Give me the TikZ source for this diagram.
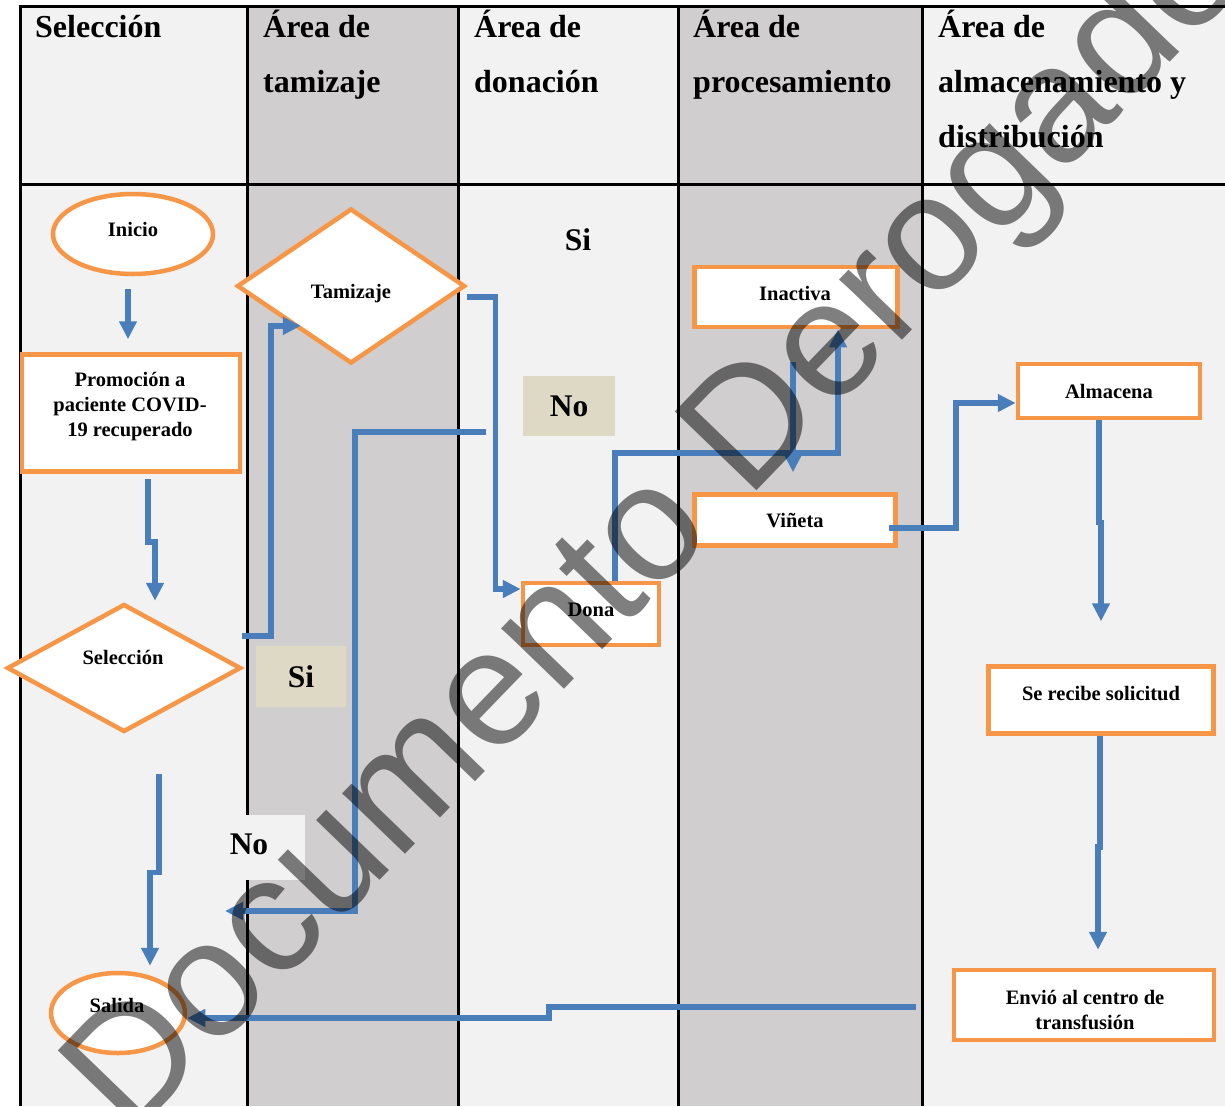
\documentclass[tikz,border=0pt]{standalone}
\usepackage{fontspec}
\setmainfont{Liberation Serif}
\newfontfamily\wmfont{Liberation Sans}
\usetikzlibrary{shapes.geometric,arrows.meta}
\definecolor{lblue}{HTML}{4A7EBB}
\definecolor{lorange}{HTML}{F79646}
\definecolor{colgray}{HTML}{D0CECE}
\definecolor{collight}{HTML}{F2F2F2}
\definecolor{beige}{HTML}{DDD9C4}
\tikzset{
  x=1pt, y=-1pt,
  rowline/.style={line width=3pt, black},
  boxnode/.style={draw=lorange, line width=4.5pt, fill=white, rectangle, inner sep=0pt},
  ellnode/.style={draw=lorange, line width=4.5pt, fill=white, ellipse, inner sep=0pt},
  dianode/.style={draw=lorange, line width=4.5pt, fill=white, diamond, inner sep=0pt},
  txt/.style={font=\bfseries\fontsize{20.5}{25}\selectfont, align=center, inner sep=0pt},
  hdr/.style={font=\bfseries\fontsize{32}{55}\selectfont, anchor=base west, inner sep=0pt},
  lbl/.style={font=\bfseries\fontsize{31.5}{36}\selectfont, inner sep=0pt},
  lblbox/.style={fill=beige, inner sep=0pt},
  arr/.style={draw=lblue, line width=5.5pt, -{Triangle[length=18pt,width=17pt]}},
  wm/.style={font=\wmfont\fontsize{165}{165}\selectfont, text=black, text opacity=0.5, inner sep=0pt}
}
\begin{document}
\begin{tikzpicture}
\useasboundingbox (0,0) rectangle (1225,1106);
\fill[white] (0,0) rectangle (1225,1106);
% columns
\fill[collight] (20,6) rectangle (247,1106);
\fill[colgray] (247,6) rectangle (458,1106);
\fill[collight] (458,6) rectangle (678,1106);
\fill[colgray] (678,6) rectangle (922,1106);
\fill[collight] (922,6) rectangle (1225,1106);
% grid lines
\draw[rowline] (18.5,6) -- (1225,6);
\draw[rowline] (20,184) -- (1225,184);
\foreach \cx in {20,247,458,678,922} \draw[rowline] (\cx,6) -- (\cx,1106);
% headers
\node[hdr] (h1a) at (35,37) {Selección};
\node[hdr] (h2a) at (263,37) {Área de};
\node[hdr] (h2b) at (263,92) {tamizaje};
\node[hdr] (h3a) at (474,37) {Área de};
\node[hdr] (h3b) at (474,92) {donación};
\node[hdr] (h4a) at (693,37) {Área de};
\node[hdr] (h4b) at (693,92) {procesamiento};
\node[hdr] (h5a) at (938,37) {Área de};
\node[hdr] (h5b) at (938,92) {almacenamiento y};
\node[hdr] (h5c) at (938,147) {distribución};
% shapes
\node[ellnode, minimum width=160pt, minimum height=80pt] (ini) at (133,234) {};
\node[txt] (tini) at (133,229) {Inicio};
\node[boxnode, minimum width=218pt, minimum height=117pt] (pro) at (131,413) {};
\node[txt] (tpro) at (130,407) {Promoción a\\paciente COVID-\\19 recuperado};
\node[dianode, minimum width=234pt, minimum height=128pt] (sel) at (124,668) {};
\node[txt] (tsel) at (123,657) {Selección};
\node[ellnode, minimum width=134pt, minimum height=80pt] (sal) at (118,1013) {};
\node[txt] (tsal) at (117,1005) {Salida};
\node[dianode, minimum width=228pt, minimum height=155pt] (tam) at (351,286) {};
\node[txt] (ttam) at (351,294) {Tamizaje};
\node[boxnode, minimum width=136pt, minimum height=62pt] (don) at (591,614) {};
\node[txt] (tdon) at (591,610) {Dona};
\node[boxnode, minimum width=203pt, minimum height=60pt] (ina) at (796,297) {};
\node[txt] (tina) at (795,293) {Inactiva};
\node[boxnode, minimum width=201pt, minimum height=51pt] (vin) at (795,520) {};
\node[txt] (tvin) at (795,521) {Viñeta};
\node[boxnode, minimum width=182pt, minimum height=54pt] (alm) at (1109,391) {};
\node[txt] (talm) at (1109,391) {Almacena};
\node[boxnode, minimum width=225pt, minimum height=67pt] (sol) at (1101,700) {};
\node[txt] (tsol) at (1101,694) {Se recibe solicitud};
\node[boxnode, minimum width=260pt, minimum height=70pt] (env) at (1084,1005) {};
\node[txt] (tenv) at (1085,1010) {Envió al centro de\\transfusión};
% labels
\node[lblbox, minimum width=90pt, minimum height=61pt] (bsi1) at (301,676.5) {};
\node[lbl] (si1) at (301,677) {Si};
\node[lblbox, minimum width=92pt, minimum height=60pt] (bno1) at (569,406) {};
\node[lbl] (no1) at (569,406) {No};
\node[lbl] (si2) at (578,240) {Si};
\node[fill=collight, inner sep=0pt, minimum width=75pt, minimum height=65pt] (bno2) at (267.5,847.5) {};
\node[lbl] (no2) at (249,844) {No};
% connectors
\draw[arr] ([xshift=-5pt,yshift=-13pt]ini.south) -- ([xshift=-3pt,yshift=13pt]pro.north);
\draw[arr] ([xshift=17pt,yshift=-5pt]pro.south) -- ++(0,63) -- ++(7,0) -- ([xshift=31pt,yshift=1pt]sel.north);
\draw[arr, shorten >=-8pt] ([xshift=-1pt,yshift=32pt]sel.east) -| ([xshift=-22pt]tam.south west) -- (tam.south west);
\draw[arr] ([yshift=-11pt]tam.east) -- ++(28,0) |- ([yshift=25pt]don.west);
\coordinate (nostart) at (486,432);
\coordinate (noend) at (225,911);
\draw[arr] (nostart) -| (355,911) -- (noend);
\draw[arr] ([xshift=35pt,yshift=-40pt]sel.south) -- ++(0,98) -- ++(-9,0) -- ([xshift=32pt,yshift=5pt]sal.north);
\draw[arr] ([xshift=24pt]don.north) -- ++(0,-128) -| ([xshift=42pt]ina.south);
\draw[arr] ([xshift=-3pt,yshift=-33pt]ina.south) -- ([xshift=-2pt,yshift=20pt]vin.north);
\draw[arr] ([xshift=-9pt,yshift=-8pt]vin.east) -- ++(67,0) |- ([yshift=-12pt]alm.west);
\draw[arr] ([xshift=-10pt]alm.south) -- ++(0,102) -- ++(2,0) -- ([yshift=43pt]sol.north);
\draw[arr] ([xshift=-1pt]sol.south) -- ++(0,111) -- ++(-2,0) -- ([xshift=14pt,yshift=18pt]env.north);
\draw[arr] ([xshift=-36pt,yshift=-2pt]env.west) -- ++(-367,0) -- ++(0,11) -- ([yshift=-5pt]sal.east);
% watermark
\node[wm, rotate=46, anchor=base west] (wmark) at (130,1140) {Documento Derogado};
\end{tikzpicture}
\end{document}
